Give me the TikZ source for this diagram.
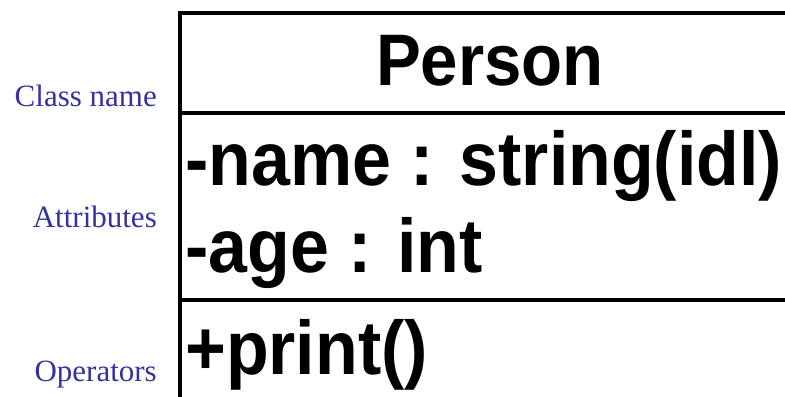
\documentclass[tikz,border=0pt]{standalone}
\usepackage{fontspec}
\setmainfont{Liberation Serif}
\newfontfamily\umlfont[FakeStretch=0.92]{Liberation Sans}
\usepackage{tikz}
\definecolor{labelblue}{RGB}{51,51,160}

\begin{document}
\begin{tikzpicture}[x=1bp,y=-1bp,
	uml/.style={font=\umlfont\bfseries\fontsize{76bp}{76bp}\selectfont, inner sep=0pt},
	part/.style={font=\fontsize{31bp}{31bp}\selectfont, text=labelblue, inner sep=0pt, anchor=base east},
	rule/.style={line width=3.3bp}]
	\useasboundingbox (0,0) rectangle (785,396);
	\clip (0,0) rectangle (785,396);
	% class box, runs on past the right and bottom edges
	\draw[rule] (180,400) -- (180,13) -- (800,13);
	\foreach \y in {113,300}{
		\draw[rule] (180,\y) -- (800,\y);
	}
	\node[uml, anchor=base, font=\umlfont\bfseries\fontsize{73bp}{73bp}\selectfont] (cname) at (490,85) {Person};
	\node[uml, anchor=base west] (attrname) at (185,185) {-name : string(idl)};
	\node[uml, anchor=base west] (attrage) at (185,272) {-age : int};
	\node[uml, anchor=base west] (opprint) at (185,374) {+print()};
	% compartment labels on the left
	\foreach \y/\t/\n in {106.5/Class name/cl, 227/Attributes/at, 381.5/Operators/op}{
		\node[part] (lbl-\n) at (157,\y) {\t};
	}
\end{tikzpicture}
\end{document}
